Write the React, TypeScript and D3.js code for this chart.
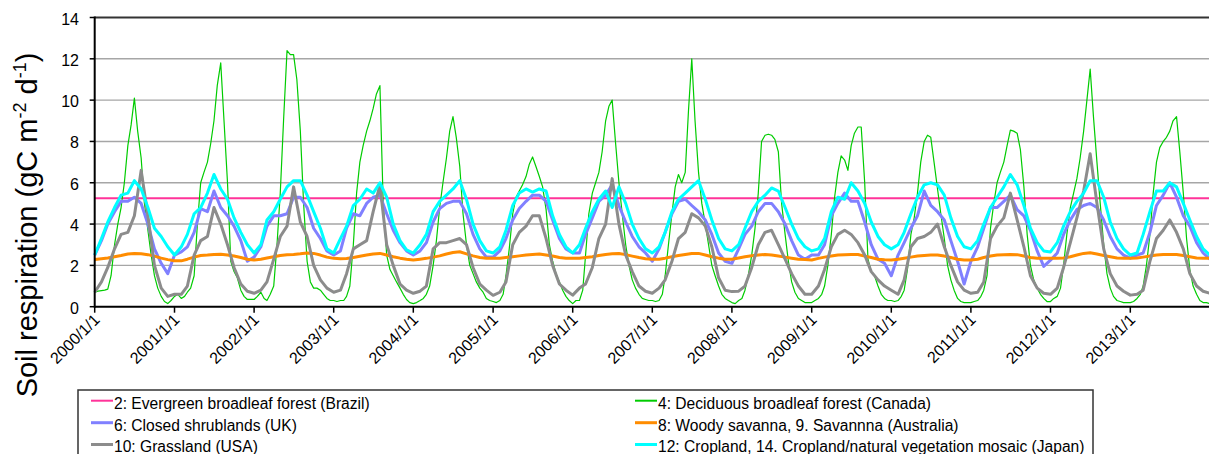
import React from "react";
import * as d3 from "d3";

// ---------- DATA ----------
const yearLabels = [
  "2000/1/1", "2001/1/1", "2002/1/1", "2003/1/1", "2004/1/1", "2005/1/1", "2006/1/1",
  "2007/1/1", "2008/1/1", "2009/1/1", "2010/1/1", "2011/1/1", "2012/1/1", "2013/1/1",
];
const yTicks = [0, 2, 4, 6, 8, 10, 12, 14];
const firstYear = 2000;
const lastYear = 2014;

// 2: Evergreen broadleaf forest (Brazil) - constant
const evergreenBrazil = 5.25;

// 4: Deciduous broadleaf forest (Canada) - half-monthly (1st & 16th), 2000..2013 + 2014/1/1
const deciduousCanada = [
  0.7, 0.75, 0.78, 0.8, 0.85, 1.5, 3.0, 4.0, 4.8, 6.0, 7.8, 8.8, 10.1, 8.5, 7.2, 5.0, 3.7, 2.5, 1.5, 0.9, 0.5, 0.25, 0.15, 0.3,
  0.5, 0.6, 0.4, 0.5, 0.7, 0.9, 1.5, 4.0, 6.0, 6.5, 7.0, 7.9, 9.0, 10.7, 11.8, 9.0, 6.0, 2.2, 1.7, 1.4, 0.8, 0.5, 0.35, 0.35,
  0.35, 0.5, 0.7, 0.4, 0.3, 0.6, 1.0, 3.0, 5.5, 9.0, 12.4, 12.2, 12.2, 11.0, 8.5, 5.0, 2.2, 1.2, 0.9, 0.9, 0.8, 0.6, 0.4, 0.3,
  0.3, 0.25, 0.3, 0.3, 0.5, 1.0, 3.0, 5.5, 7.0, 7.8, 8.5, 9.0, 9.6, 10.3, 10.7, 5.0, 2.5, 1.8, 1.5, 1.2, 0.9, 0.6, 0.35, 0.2,
  0.15, 0.2, 0.3, 0.4, 0.6, 1.0, 2.0, 3.2, 4.8, 6.0, 7.2, 8.5, 9.2, 8.2, 6.8, 4.5, 3.0, 2.0, 1.6, 1.2, 0.9, 0.7, 0.4, 0.3,
  0.25, 0.2, 0.3, 0.6, 1.5, 2.8, 4.5, 5.3, 5.6, 5.9, 6.3, 6.9, 7.25, 6.8, 6.3, 5.8, 4.7, 3.0, 2.2, 1.6, 1.2, 0.8, 0.5, 0.3,
  0.15, 0.3, 0.3, 0.8, 2.5, 4.5, 5.5, 6.0, 6.5, 7.5, 9.0, 9.7, 10.0, 8.0, 6.0, 4.5, 3.0, 2.0, 1.3, 0.9, 0.6, 0.4, 0.35, 0.3,
  0.3, 0.25, 0.3, 0.6, 1.5, 3.0, 4.5, 5.8, 6.4, 6.0, 6.5, 9.5, 12.0, 9.0, 6.5, 5.0, 4.0, 3.0, 2.0, 1.5, 1.0, 0.6, 0.4, 0.3,
  0.2, 0.15, 0.3, 0.4, 0.8, 1.5, 2.5, 3.8, 5.5, 8.0, 8.3, 8.35, 8.3, 8.1, 7.5, 5.0, 3.5, 2.2, 1.2, 0.7, 0.4, 0.3, 0.2, 0.2,
  0.2, 0.3, 0.4, 0.6, 1.0, 2.0, 3.5, 5.3, 6.5, 7.3, 7.1, 6.6, 7.8, 8.4, 8.7, 8.7, 6.0, 2.3, 1.7, 1.5, 1.0, 0.6, 0.4, 0.3,
  0.3, 0.25, 0.3, 0.5, 0.8, 1.8, 3.5, 4.3, 5.5, 7.0, 8.0, 8.3, 8.2, 7.0, 5.7, 4.5, 3.3, 2.0, 1.3, 0.8, 0.4, 0.25, 0.2, 0.2,
  0.2, 0.25, 0.3, 0.5, 0.8, 1.5, 3.8, 5.0, 6.0, 6.5, 7.0, 7.8, 8.55, 8.5, 8.4, 7.6, 5.8, 3.5, 2.0, 1.3, 0.9, 0.6, 0.4, 0.25,
  0.25, 0.4, 0.5, 0.9, 2.0, 3.5, 4.8, 5.5, 6.2, 7.2, 8.5, 10.0, 11.5, 9.2, 7.0, 5.0, 3.0, 1.6, 0.9, 0.5, 0.3, 0.25, 0.2, 0.2,
  0.2, 0.25, 0.4, 0.6, 1.0, 2.0, 3.5, 5.5, 7.0, 7.7, 8.0, 8.2, 8.5, 9.0, 9.2, 7.5, 5.5, 3.3, 1.8, 1.0, 0.6, 0.3, 0.2, 0.2,
  0.15,
];

// 6: Closed shrublands (UK) - monthly (1st of month) 2000..2013 + 2014/1/1
const shrublandsUK = [
  2.5, 3.2, 4.0, 4.6, 5.1, 5.1, 5.3, 5.0, 4.0, 2.8, 2.1, 1.6,
  2.5, 2.65, 2.9, 3.6, 4.75, 4.6, 5.6, 4.8, 4.4, 3.9, 3.2, 2.2,
  2.4, 2.9, 3.9, 4.4, 4.4, 4.5, 5.3, 5.3, 4.8, 3.8, 3.3, 2.7,
  2.5, 2.7, 3.8, 4.5, 4.4, 5.0, 5.3, 5.4, 4.5, 3.7, 3.1, 2.7,
  2.5, 2.7, 3.1, 4.1, 4.75, 5.0, 5.1, 5.1, 4.5, 3.5, 2.8, 2.4,
  2.4, 2.7, 3.3, 4.2, 4.75, 5.1, 5.4, 5.4, 5.1, 4.2, 3.3, 2.8,
  2.6, 2.6, 3.5, 4.3, 5.1, 5.4, 5.9, 4.9, 4.1, 3.4, 2.9, 2.6,
  2.2, 2.8, 3.6, 4.5, 5.1, 5.2, 4.9, 4.6, 4.2, 3.5, 2.6, 2.2,
  2.1, 2.8, 3.5, 3.9, 4.6, 5.0, 5.0, 4.6, 4.0, 3.2, 2.5, 2.3,
  2.5, 2.5, 3.0, 4.4, 5.0, 5.5, 5.1, 5.1, 4.1, 3.0, 2.3, 2.1,
  1.5, 2.5, 3.1, 3.8, 4.4, 5.6, 4.9, 4.6, 4.2, 3.2, 2.2, 1.1,
  2.2, 2.9, 3.8, 4.8, 4.8, 5.1, 5.4, 4.7, 4.4, 3.7, 2.7, 1.95,
  2.25, 2.6, 3.5, 4.2, 4.7, 4.9, 5.0, 4.8, 4.2, 3.4, 2.8, 2.5,
  2.35, 2.5, 2.6, 3.6, 4.9, 5.4, 6.0, 5.3, 4.4, 3.9, 3.1, 2.6,
  2.3,
];

// 8: Woody savanna, 9. Savanna (Australia) - monthly
const savannaAustralia = [
  2.28, 2.32, 2.36, 2.42, 2.48, 2.55, 2.58, 2.56, 2.52, 2.45, 2.35, 2.28,
  2.22, 2.22, 2.3, 2.4, 2.48, 2.5, 2.53, 2.54, 2.5, 2.45, 2.38, 2.3,
  2.26, 2.3, 2.36, 2.42, 2.48, 2.52, 2.53, 2.56, 2.6, 2.58, 2.5, 2.4,
  2.34, 2.32, 2.33, 2.38, 2.44, 2.5, 2.55, 2.58, 2.5, 2.42, 2.35, 2.3,
  2.26, 2.3, 2.34, 2.4, 2.46, 2.55, 2.62, 2.66, 2.56, 2.46, 2.38, 2.34,
  2.34, 2.35, 2.38, 2.42, 2.46, 2.5, 2.53, 2.55, 2.5, 2.45, 2.38, 2.34,
  2.34, 2.35, 2.38, 2.42, 2.48, 2.53, 2.56, 2.58, 2.52, 2.45, 2.38, 2.32,
  2.3, 2.3, 2.35, 2.42, 2.48, 2.53, 2.58, 2.58, 2.5, 2.42, 2.35, 2.3,
  2.3, 2.36, 2.42, 2.47, 2.5, 2.53, 2.5, 2.45, 2.4, 2.35, 2.3, 2.28,
  2.26, 2.34, 2.4, 2.45, 2.5, 2.52, 2.53, 2.53, 2.45, 2.38, 2.3, 2.27,
  2.26, 2.3, 2.35, 2.4, 2.45, 2.48, 2.5, 2.5, 2.45, 2.38, 2.3, 2.26,
  2.26, 2.3, 2.38, 2.45, 2.5, 2.52, 2.53, 2.52, 2.45, 2.38, 2.34, 2.34,
  2.34, 2.34, 2.36, 2.42, 2.5, 2.58, 2.61, 2.55, 2.48, 2.42, 2.36, 2.34,
  2.34, 2.36, 2.4, 2.45, 2.5, 2.53, 2.53, 2.53, 2.48, 2.42, 2.36, 2.34,
  2.34,
];

// 10: Grassland (USA) - monthly
const grasslandUSA = [
  0.7, 1.2, 1.9, 2.8, 3.5, 3.6, 4.4, 6.6, 4.4, 2.0, 0.9, 0.5,
  0.6, 0.6, 1.0, 2.5, 3.2, 3.4, 4.8, 4.0, 3.0, 1.9, 1.1, 0.75,
  0.65, 0.8, 1.2, 2.3, 3.4, 3.9, 5.8, 4.1, 3.4, 2.0, 1.3, 0.9,
  0.7, 0.8, 1.6, 2.8, 3.0, 3.2, 4.6, 5.9, 3.0, 2.0, 1.1, 0.8,
  0.65, 0.75, 1.0, 2.8, 3.1, 3.1, 3.2, 3.3, 3.0, 1.9, 1.1, 0.8,
  0.55, 0.7, 1.2, 3.0, 3.6, 3.9, 4.4, 4.4, 3.3, 2.0, 1.1, 0.8,
  0.56, 0.9, 1.1, 1.9, 3.3, 4.0, 6.2, 4.0, 2.5, 1.7, 1.0, 0.75,
  0.65, 0.9, 1.3, 2.2, 3.3, 3.6, 4.5, 4.3, 3.9, 2.9, 1.4, 0.8,
  0.73, 0.75, 1.0, 1.9, 3.0, 3.6, 3.7, 3.0, 2.3, 1.6, 1.0, 0.6,
  0.6, 1.0, 1.8, 2.9, 3.5, 3.7, 3.5, 3.1, 2.5, 1.7, 1.3, 1.0,
  0.8, 0.6, 1.3, 2.9, 3.3, 3.4, 3.6, 4.0, 2.9, 2.0, 1.2, 0.8,
  0.65, 0.7, 1.2, 3.3, 3.9, 4.3, 5.5, 4.2, 2.9, 1.5, 0.9, 0.65,
  0.6, 0.9, 1.9, 3.1, 4.3, 5.6, 7.4, 5.0, 2.8, 1.6, 1.0, 0.75,
  0.56, 0.6, 0.8, 2.2, 3.3, 3.7, 4.2, 3.6, 2.8, 1.6, 1.0, 0.75,
  0.65,
];

// 12: Cropland, 14. Cropland/natural vegetation mosaic (Japan) - monthly
const croplandJapan = [
  2.5, 3.3, 4.1, 4.8, 5.4, 5.5, 6.1, 5.7, 4.8, 3.8, 3.4, 2.9,
  2.5, 2.9, 3.5, 4.5, 4.8, 5.5, 6.4, 5.7, 5.2, 4.3, 3.6, 3.0,
  2.6, 3.0, 4.2, 4.6, 5.2, 5.8, 6.1, 6.1, 5.4, 4.6, 3.8, 2.8,
  2.6, 3.3, 3.9, 4.9, 5.2, 5.7, 5.5, 6.0, 5.3, 4.0, 3.2, 2.75,
  2.6, 3.0, 3.5, 4.6, 5.1, 5.4, 5.7, 6.1, 5.2, 4.0, 3.2, 2.7,
  2.6, 2.9, 3.7, 4.9, 5.5, 5.7, 5.55, 5.7, 5.6, 4.4, 3.5, 2.9,
  2.6, 3.0, 3.8, 4.6, 5.2, 5.6, 4.8, 5.8, 5.0, 4.0, 3.3, 2.8,
  2.6, 2.9, 3.6, 4.6, 5.2, 5.5, 5.8, 6.1, 5.2, 4.2, 3.3, 2.8,
  2.7, 3.0, 3.8, 4.6, 5.1, 5.4, 5.75, 5.6, 4.8, 4.0, 3.3, 2.9,
  2.7, 2.8, 3.3, 4.6, 5.3, 5.2, 6.0, 5.6, 5.0, 4.1, 3.4, 3.0,
  2.8, 3.0, 3.6, 4.5, 5.3, 5.9, 6.0, 5.9, 5.4, 4.3, 3.4, 2.9,
  2.8, 3.2, 4.0, 4.8, 5.3, 5.8, 6.4, 5.9, 4.9, 3.8, 3.1, 2.7,
  2.65, 3.1, 3.9, 4.6, 5.1, 5.5, 6.1, 6.1, 5.3, 4.1, 3.3, 2.8,
  2.5, 2.6, 3.5, 4.6, 5.6, 5.6, 6.0, 5.8, 5.0, 4.2, 3.4, 2.8,
  2.5,
];

// ---------- DATES ----------
const monthlyDates: Date[] = [];
const halfMonthDates: Date[] = [];
for (let yr = firstYear; yr < lastYear; yr++) {
  for (let m = 0; m < 12; m++) {
    monthlyDates.push(new Date(Date.UTC(yr, m, 1)));
    halfMonthDates.push(new Date(Date.UTC(yr, m, 1)));
    halfMonthDates.push(new Date(Date.UTC(yr, m, 16)));
  }
}
monthlyDates.push(new Date(Date.UTC(lastYear, 0, 1)));
halfMonthDates.push(new Date(Date.UTC(lastYear, 0, 1)));

const seriesDefs = [
  { key: "2", label: "2: Evergreen broadleaf forest (Brazil)", color: "#ff3399", width: 2,
    dates: [monthlyDates[0], monthlyDates[monthlyDates.length - 1]], values: [evergreenBrazil, evergreenBrazil] },
  { key: "4", label: "4: Deciduous broadleaf forest (Canada)", color: "#00cc00", width: 1.2,
    dates: halfMonthDates, values: deciduousCanada },
  { key: "6", label: "6: Closed shrublands (UK)", color: "#8080ff", width: 3,
    dates: monthlyDates, values: shrublandsUK },
  { key: "8", label: "8: Woody savanna, 9. Savannna (Australia)", color: "#ff8c00", width: 3,
    dates: monthlyDates, values: savannaAustralia },
  { key: "10", label: "10: Grassland (USA)", color: "#8c8c8c", width: 3,
    dates: monthlyDates, values: grasslandUSA },
  { key: "12", label: "12: Cropland, 14. Cropland/natural vegetation mosaic (Japan)", color: "#00ffff", width: 3,
    dates: monthlyDates, values: croplandJapan },
];

// ---------- LAYOUT ----------
const W = 1209;
const H = 454;
const plot = { left: 94.7, right: 1209.9, top: 17.5, bottom: 306.7 };
const FONT = "'Liberation Sans', Arial, sans-serif";

export default function App() {
  const x = d3
    .scaleUtc()
    .domain([new Date(Date.UTC(firstYear, 0, 1)), new Date(Date.UTC(lastYear, 0, 1))])
    .range([plot.left, plot.right]);
  const y = d3.scaleLinear().domain([0, 14]).range([plot.bottom, plot.top]);

  const line = d3
    .line<[Date, number]>()
    .x((d) => x(d[0]))
    .y((d) => y(d[1]));

  const yearDates = yearLabels.map((_, i) => new Date(Date.UTC(firstYear + i, 0, 1)));

  const legendCols = [
    { lx: 91, tx: 114, keys: ["2", "6", "10"] },
    { lx: 635, tx: 658, keys: ["4", "8", "12"] },
  ];
  const legendRowLine = [400.7, 422.7, 444.5];
  const legendRowText = [408.8, 430.6, 452.4];

  return (
    <svg
      width={W}
      height={H}
      style={{ position: "absolute", left: 0, top: 0, background: "#fff" }}
      fontFamily={FONT}
    >
      <rect x={0} y={0} width={W} height={H} fill="#fff" />
      {/* gridlines */}
      {yTicks
        .filter((t) => t > 0 && t < 14)
        .map((t) => (
          <line key={"g" + t} x1={plot.left} x2={W} y1={y(t)} y2={y(t)} stroke="#a6a6a6" strokeWidth={1.4} />
        ))}
      {/* top border */}
      <line x1={plot.left} x2={W} y1={plot.top} y2={plot.top} stroke="#333" strokeWidth={2} />

      {/* series */}
      {seriesDefs.map((s) => {
        const pts: [Date, number][] = s.values.map((v, i) => [s.dates[i], v]);
        return (
          <path
            key={s.key}
            d={line(pts) || ""}
            fill="none"
            stroke={s.color}
            strokeWidth={s.width}
            strokeLinejoin="round"
          />
        );
      })}

      {/* axes */}
      <line x1={plot.left} x2={plot.left} y1={plot.top - 1} y2={plot.bottom + 1} stroke="#000" strokeWidth={2} />
      <line x1={plot.left} x2={W} y1={plot.bottom} y2={plot.bottom} stroke="#000" strokeWidth={2} />
      {yTicks.map((t) => (
        <g key={"yt" + t}>
          <line x1={plot.left - 5} x2={plot.left} y1={y(t)} y2={y(t)} stroke="#000" strokeWidth={1.5} />
          <text x={79} y={y(t) + 7} textAnchor="end" fontSize={16} fill="#000">
            {t}
          </text>
        </g>
      ))}
      {yearDates.map((d, i) => (
        <g key={"xt" + i}>
          <line x1={x(d)} x2={x(d)} y1={plot.bottom} y2={plot.bottom + 6} stroke="#000" strokeWidth={1.5} />
          <text
            transform={`translate(${x(d) + 6},${plot.bottom + 14}) rotate(-45)`}
            textAnchor="end"
            fontSize={16}
            fill="#000"
          >
            {yearLabels[i]}
          </text>
        </g>
      ))}

      {/* y title */}
      <text transform="translate(37,225) rotate(-90)" textAnchor="middle" fontSize={29} fill="#000">
        <tspan>Soil respiration (gC m</tspan>
        <tspan dy={-11} fontSize={18}>-2</tspan>
        <tspan dy={11}> d</tspan>
        <tspan dy={-11} fontSize={18}>-1</tspan>
        <tspan dy={11}>)</tspan>
      </text>

      {/* legend */}
      <rect x={78} y={390} width={1015} height={80} fill="#fff" stroke="#333" strokeWidth={1.5} />
      {legendCols.map((col) =>
        col.keys.map((k, r) => {
          const s = seriesDefs.find((d) => d.key === k)!;
          return (
            <g key={"lg" + k}>
              <line
                x1={col.lx}
                x2={col.lx + 22}
                y1={legendRowLine[r]}
                y2={legendRowLine[r]}
                stroke={s.color}
                strokeWidth={s.width > 2 ? 3 : 2}
              />
              <text x={col.tx} y={legendRowText[r]} fontSize={15.6} fill="#000">
                {s.label}
              </text>
            </g>
          );
        })
      )}
    </svg>
  );
}
